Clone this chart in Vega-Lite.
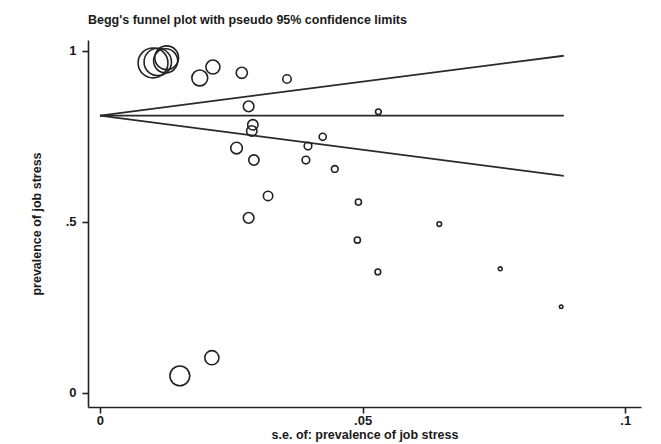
{
  "$schema": "https://vega.github.io/schema/vega-lite/v6.json",
  "autosize": {"type": "none"},
  "padding": {"left": 88, "top": 40, "right": 20, "bottom": 37},
  "width": 553,
  "height": 367,
  "background": "white",
  "title": {
    "text": "Begg's funnel plot with pseudo 95% confidence limits",
    "anchor": "start",
    "frame": "group",
    "offset": 14,
    "font": "Liberation Sans, Arial",
    "fontSize": 12.5,
    "fontWeight": "bold",
    "color": "#1a1a1a"
  },
  "config": {
    "view": {"stroke": null},
    "axis": {
      "grid": false,
      "domainColor": "#222",
      "domainWidth": 1.6,
      "tickColor": "#222",
      "tickWidth": 1.6,
      "tickSize": 6,
      "labelFont": "Liberation Sans, Arial",
      "labelFontSize": 13,
      "labelFontWeight": "bold",
      "labelColor": "#1a1a1a",
      "titleFont": "Liberation Sans, Arial",
      "titleFontSize": 12.5,
      "titleFontWeight": "bold",
      "titleColor": "#1a1a1a"
    }
  },
  "layer": [
    {
      "data": {
        "values": [
          {"line": "center", "se": 0, "prev": 0.811},
          {"line": "center", "se": 0.0883, "prev": 0.811},
          {"line": "upper", "se": 0, "prev": 0.811},
          {"line": "upper", "se": 0.0883, "prev": 0.986},
          {"line": "lower", "se": 0, "prev": 0.811},
          {"line": "lower", "se": 0.0883, "prev": 0.635}
        ]
      },
      "mark": {"type": "line", "color": "#2a2a2a", "strokeWidth": 1.8},
      "encoding": {
        "x": {"field": "se", "type": "quantitative"},
        "y": {"field": "prev", "type": "quantitative"},
        "detail": {"field": "line"}
      }
    },
    {
      "data": {
        "values": [
          {"se": 0.0101, "prev": 0.965},
          {"se": 0.0110, "prev": 0.968},
          {"se": 0.0127, "prev": 0.980},
          {"se": 0.0125, "prev": 0.971},
          {"se": 0.0190, "prev": 0.921},
          {"se": 0.0215, "prev": 0.953},
          {"se": 0.0270, "prev": 0.936},
          {"se": 0.0356, "prev": 0.918},
          {"se": 0.0283, "prev": 0.838},
          {"se": 0.0530, "prev": 0.822},
          {"se": 0.0291, "prev": 0.784},
          {"se": 0.0289, "prev": 0.766},
          {"se": 0.0260, "prev": 0.716},
          {"se": 0.0396, "prev": 0.722},
          {"se": 0.0424, "prev": 0.749},
          {"se": 0.0293, "prev": 0.681},
          {"se": 0.0392, "prev": 0.681},
          {"se": 0.0447, "prev": 0.655},
          {"se": 0.0320, "prev": 0.576},
          {"se": 0.0283, "prev": 0.512},
          {"se": 0.0492, "prev": 0.558},
          {"se": 0.0490, "prev": 0.447},
          {"se": 0.0646, "prev": 0.494},
          {"se": 0.0529, "prev": 0.354},
          {"se": 0.0762, "prev": 0.363},
          {"se": 0.0878, "prev": 0.252},
          {"se": 0.0152, "prev": 0.050},
          {"se": 0.0213, "prev": 0.103}
        ]
      },
      "mark": {"type": "point", "shape": "circle", "filled": false, "color": "#222", "strokeWidth": 1.6, "opacity": 1},
      "encoding": {
        "x": {
          "field": "se",
          "type": "quantitative",
          "scale": {"domain": [-0.00228, 0.1030], "nice": false, "zero": false},
          "axis": {
            "values": [0, 0.05, 0.1],
            "labelExpr": "datum.value == 0 ? '0' : datum.value == 0.05 ? '.05' : '.1'",
            "title": "s.e. of: prevalence of job stress",
            "labelPadding": 1,
            "titlePadding": 1
          }
        },
        "y": {
          "field": "prev",
          "type": "quantitative",
          "scale": {"domain": [-0.041, 1.032], "nice": false, "zero": false},
          "axis": {
            "values": [0, 0.5, 1],
            "labelExpr": "datum.value == 0 ? '0' : datum.value == 0.5 ? '.5' : '1'",
            "title": "prevalence of job stress",
            "labelPadding": 6,
            "titlePadding": 22
          }
        },
        "size": {
          "field": "se",
          "type": "quantitative",
          "scale": {"type": "pow", "exponent": -2, "domain": [0.01, 0.09], "range": [908, 11.2], "zero": false},
          "legend": null
        }
      }
    }
  ]
}
